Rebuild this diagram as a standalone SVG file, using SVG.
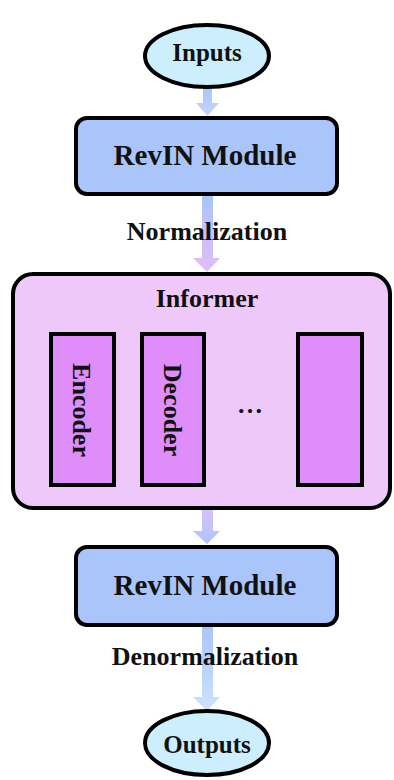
<svg xmlns="http://www.w3.org/2000/svg" width="394" height="780" viewBox="0 0 394 780">
  <style>
    .lbl { font-family: "Liberation Serif", "Times New Roman", serif; font-weight: bold; fill: #111; text-anchor: middle; }
    .term { fill: #cdeefd; stroke: #000; stroke-width: 4; }
    .mod { fill: #a9c5fa; stroke: #000; stroke-width: 4; }
    .inf { fill: #efc8fa; stroke: #000; stroke-width: 4; }
    .blk { fill: #df8ef9; stroke: #000; stroke-width: 4; }
  </style>
  <defs>
    <linearGradient id="gBlue" x1="0" y1="0" x2="0" y2="1">
      <stop offset="0" stop-color="#a9c5fa"/>
      <stop offset="1" stop-color="#c3d7fb"/>
    </linearGradient>
    <linearGradient id="gNorm" x1="0" y1="0" x2="0" y2="1">
      <stop offset="0" stop-color="#a9c5fa"/>
      <stop offset="1" stop-color="#e2bdf8"/>
    </linearGradient>
    <linearGradient id="gDown" x1="0" y1="0" x2="0" y2="1">
      <stop offset="0" stop-color="#dcc0f8"/>
      <stop offset="1" stop-color="#a9c5fa"/>
    </linearGradient>
    <linearGradient id="gDenorm" x1="0" y1="0" x2="0" y2="1">
      <stop offset="0" stop-color="#a9c5fa"/>
      <stop offset="1" stop-color="#cfe2fc"/>
    </linearGradient>
  </defs>

  <!-- block arrows between stages -->
  <g id="connectors">
    <path d="M203 88 H212 V103 H219 L207.5 116 L196 103 H203 Z" fill="url(#gBlue)"/>
    <path d="M202 194 H213 V258 H220 L207 272 L193 258 H202 Z" fill="url(#gNorm)"/>
    <path d="M202 508 H213 V531 H220 L207 544 L193 531 H202 Z" fill="url(#gDown)"/>
    <path d="M202 625 H213 V697 H220 L207 711 L193 697 H202 Z" fill="url(#gDenorm)"/>
    <text class="lbl" x="207" y="240" font-size="26">Normalization</text>
    <text class="lbl" x="205" y="665" font-size="26">Denormalization</text>
  </g>

  <g id="inputs">
    <ellipse class="term" cx="207" cy="56" rx="62" ry="31"/>
    <text class="lbl" x="207" y="61" font-size="25">Inputs</text>
  </g>

  <g id="revin-in">
    <rect class="mod" x="76" y="118" width="261" height="76" rx="11"/>
    <text class="lbl" x="205" y="165" font-size="29">RevIN Module</text>
  </g>

  <g id="informer">
    <rect class="inf" x="13" y="274" width="377" height="234" rx="20"/>
    <text class="lbl" x="207" y="307" font-size="26">Informer</text>
  </g>

  <g id="encoder">
    <rect class="blk" x="51" y="334" width="63" height="151"/>
    <text class="lbl" font-size="26" transform="translate(82 410) rotate(90)" dy="9">Encoder</text>
  </g>

  <g id="decoder">
    <rect class="blk" x="142" y="334" width="62" height="151"/>
    <text class="lbl" font-size="26" transform="translate(173 410) rotate(90)" dy="9">Decoder</text>
  </g>

  <g id="ellipsis">
    <text class="lbl" x="250" y="413" font-size="26">…</text>
  </g>

  <g id="layer-n">
    <rect class="blk" x="298" y="334" width="64" height="151"/>
  </g>

  <g id="revin-out">
    <rect class="mod" x="76" y="547" width="261" height="78" rx="11"/>
    <text class="lbl" x="205" y="595" font-size="29">RevIN Module</text>
  </g>

  <g id="outputs">
    <ellipse class="term" cx="207" cy="743" rx="62" ry="32"/>
    <text class="lbl" x="207" y="753" font-size="25">Outputs</text>
  </g>
</svg>
